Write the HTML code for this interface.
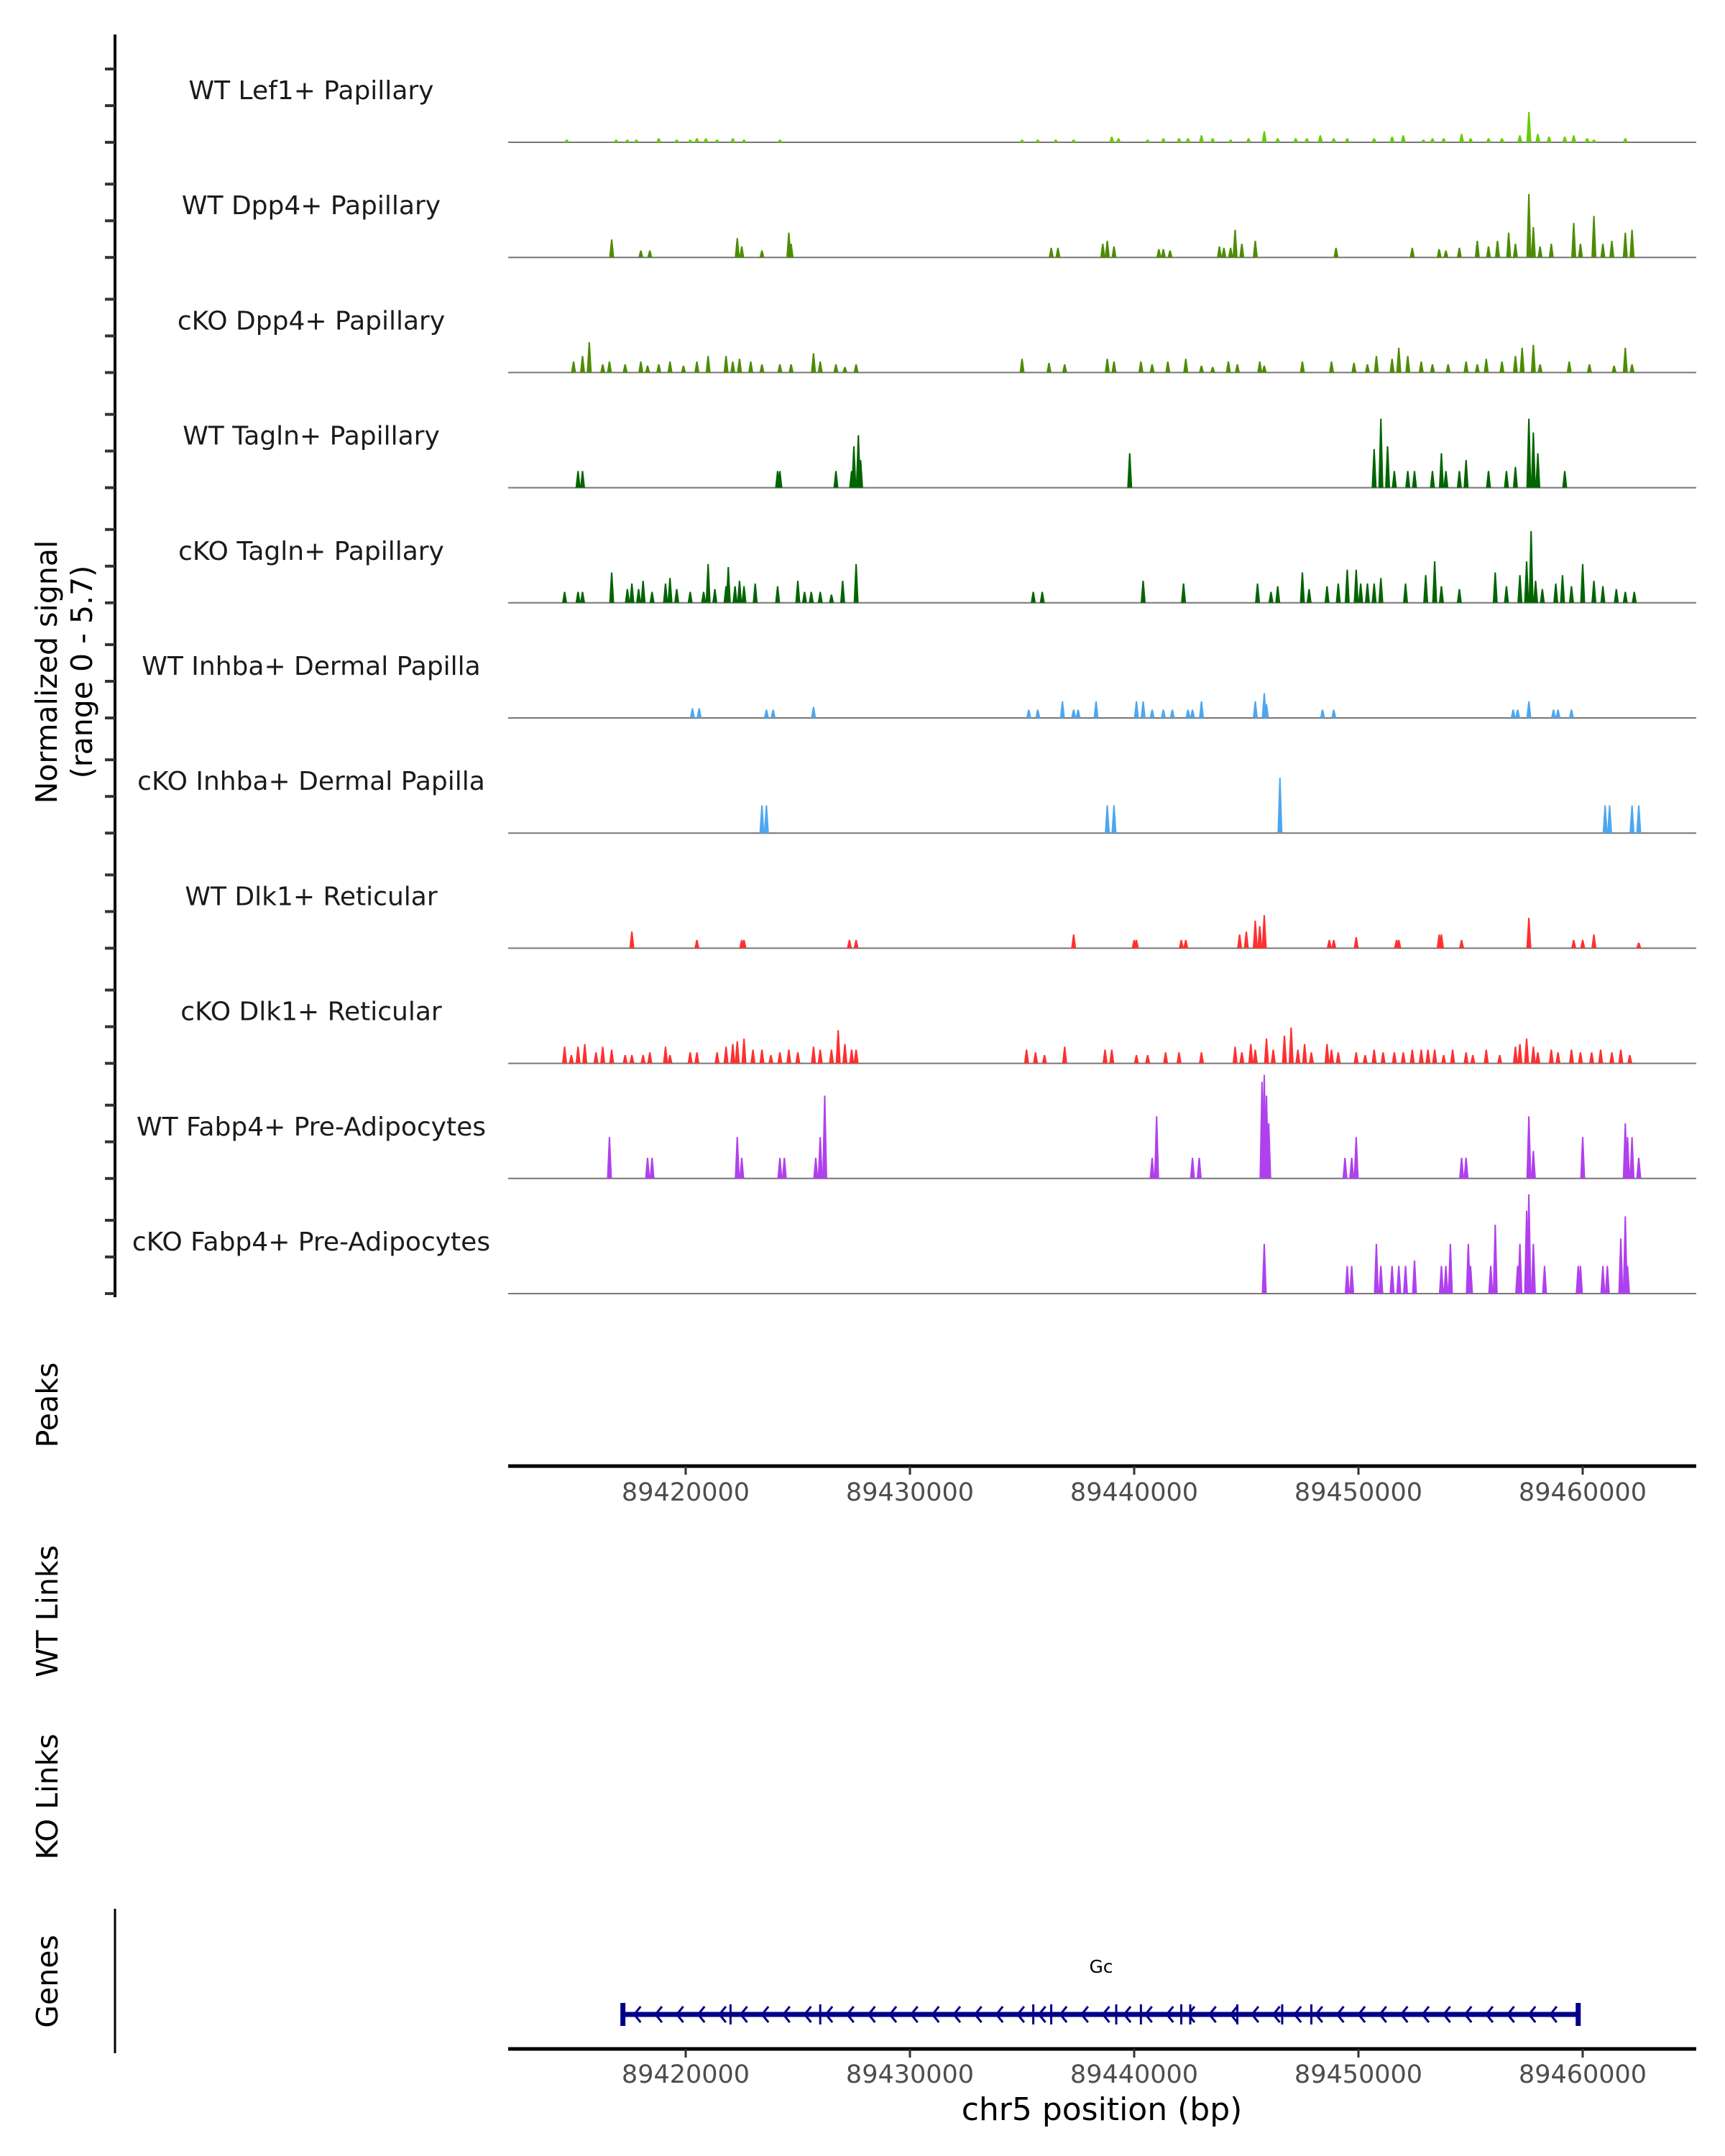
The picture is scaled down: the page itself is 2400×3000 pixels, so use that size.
<!DOCTYPE html>
<html><head><meta charset="utf-8"><title>Coverage plot chr5 Gc</title>
<style>
html,body{margin:0;padding:0;background:#fff;}
svg{display:block;font-family:"DejaVu Sans","Liberation Sans",sans-serif;}
</style></head>
<body>
<svg id="plot" xmlns="http://www.w3.org/2000/svg" width="2400" height="3000" viewBox="0 0 2400 3000">
<rect x="0" y="0" width="2400" height="3000" fill="#fff"/>
<g id="axes">
  <line x1="160" y1="48" x2="160" y2="1805" stroke="#000" stroke-width="4"/>
  <g id="yticks"></g>
  <text transform="translate(79,935) rotate(-90)" text-anchor="middle" font-size="41" fill="#000">Normalized signal</text>
  <text transform="translate(128,935) rotate(-90)" text-anchor="middle" font-size="41" fill="#000">(range 0 - 5.7)</text>
  <text transform="translate(80,1955) rotate(-90)" text-anchor="middle" font-size="41" fill="#000">Peaks</text>
  <text transform="translate(80,2242) rotate(-90)" text-anchor="middle" font-size="41" fill="#000">WT Links</text>
  <text transform="translate(80,2500) rotate(-90)" text-anchor="middle" font-size="41" fill="#000">KO Links</text>
  <text transform="translate(80,2757) rotate(-90)" text-anchor="middle" font-size="41" fill="#000">Genes</text>
  <line x1="160" y1="2656" x2="160" y2="2857" stroke="#000" stroke-width="3"/>
  <line x1="707" y1="2040" x2="2360" y2="2040" stroke="#000" stroke-width="5"/>
  <line x1="707" y1="2851" x2="2360" y2="2851" stroke="#000" stroke-width="5"/>
  <g id="xticks"></g>
  <text x="1533" y="2950" text-anchor="middle" font-size="44" fill="#000">chr5 position (bp)</text>
</g>
<g id="tracks"></g>
<g id="gene"></g>
</svg>
<script>
// ---------- data (positions in kb on chr5, signal 0-5.7) ----------
const xTicks = [89420, 89430, 89440, 89450, 89460];
const xTickLabels = ["89420000", "89430000", "89440000", "89450000", "89460000"];
const trackNames = ["WT Lef1+ Papillary","WT Dpp4+ Papillary","cKO Dpp4+ Papillary","WT Tagln+ Papillary","cKO Tagln+ Papillary","WT Inhba+ Dermal Papilla","cKO Inhba+ Dermal Papilla","WT Dlk1+ Reticular","cKO Dlk1+ Reticular","WT Fabp4+ Pre-Adipocytes","cKO Fabp4+ Pre-Adipocytes"];
const trackColors = ["#66CC00","#4C8C00","#4C8C00","#006400","#006400","#4DA6F0","#4DA6F0","#FF3030","#FF3030","#B040EE","#B040EE"];
const wtLef1 = [[89414.7,.14],[89416.9,.14],[89417.4,.14],[89417.8,.14],[89418.8,.21],[89419.6,.14],[89420.2,.14],[89420.5,.21],[89420.9,.21],[89421.4,.14],[89422.1,.21],[89422.6,.14],[89424.2,.14],[89435.0,.14],[89435.7,.14],[89436.5,.14],[89437.3,.14],[89439.0,.29],[89439.3,.21],[89440.6,.14],[89441.3,.21],[89442.0,.21],[89442.4,.21],[89443.0,.36],[89443.5,.21],[89444.3,.14],[89445.1,.21],[89445.8,.57],[89446.4,.21],[89447.2,.21],[89447.7,.21],[89448.3,.36],[89448.9,.21],[89449.5,.21],[89450.7,.21],[89451.5,.29],[89452.0,.36],[89452.9,.14],[89453.3,.21],[89453.8,.21],[89454.6,.43],[89455.0,.21],[89455.8,.21],[89456.4,.21],[89457.2,.36],[89457.6,1.57],[89458.0,.43],[89458.5,.29],[89459.2,.29],[89459.6,.36],[89460.2,.21],[89460.5,.14],[89461.9,.21]];
const wtDpp4 = [[89416.7,.93],[89418.0,.36],[89418.4,.36],[89422.3,1.0],[89422.5,.57],[89423.4,.36],[89424.6,1.28],[89424.7,.71],[89436.3,.5],[89436.6,.5],[89438.6,.71],[89438.8,.86],[89439.1,.57],[89441.1,.43],[89441.3,.43],[89441.6,.36],[89443.8,.57],[89444.0,.5],[89444.3,.5],[89444.5,1.43],[89444.8,.71],[89445.4,.86],[89449.0,.5],[89452.4,.5],[89453.6,.43],[89453.9,.36],[89454.5,.5],[89455.3,.86],[89455.8,.57],[89456.2,.86],[89456.7,1.28],[89457.0,.71],[89457.6,3.28],[89457.8,1.57],[89458.1,.57],[89458.6,.71],[89459.6,1.78],[89459.9,.71],[89460.5,2.14],[89460.9,.71],[89461.3,.86],[89461.9,1.28],[89462.2,1.43]];
const ckoDpp4 = [[89415.0,.57],[89415.4,.86],[89415.7,1.57],[89416.3,.43],[89416.6,.57],[89417.3,.43],[89418.0,.57],[89418.3,.36],[89418.8,.43],[89419.3,.57],[89419.9,.36],[89420.5,.57],[89421.0,.86],[89421.8,.86],[89422.1,.57],[89422.4,.71],[89422.9,.57],[89423.4,.43],[89424.2,.43],[89424.7,.43],[89425.7,1.0],[89426.0,.57],[89426.7,.43],[89427.1,.29],[89427.6,.43],[89435.0,.71],[89436.2,.5],[89436.9,.43],[89438.8,.71],[89439.1,.57],[89440.3,.57],[89440.8,.43],[89441.5,.57],[89442.3,.71],[89443.0,.36],[89443.5,.29],[89444.2,.57],[89444.6,.43],[89445.6,.57],[89445.8,.36],[89447.5,.57],[89448.8,.57],[89449.8,.5],[89450.4,.43],[89450.8,.86],[89451.5,.71],[89451.8,1.28],[89452.2,.86],[89452.8,.57],[89453.3,.43],[89454.0,.43],[89454.8,.57],[89455.3,.43],[89455.7,.71],[89456.4,.57],[89457.0,.86],[89457.3,1.28],[89457.8,1.43],[89458.1,.43],[89459.4,.57],[89460.3,.43],[89461.4,.36],[89461.9,1.28],[89462.2,.43]];
const wtTagln = [[89415.2,.86],[89415.4,.86],[89424.1,.86],[89424.2,.86],[89426.7,.86],[89427.4,.86],[89427.5,2.14],[89427.7,2.71],[89427.8,1.43],[89439.8,1.78],[89450.7,2.0],[89451.0,3.56],[89451.3,2.14],[89451.6,.86],[89452.2,.86],[89452.5,.86],[89453.3,.86],[89453.7,1.78],[89453.9,.86],[89454.5,.86],[89454.8,1.43],[89455.8,.86],[89456.6,.86],[89457.0,1.07],[89457.6,3.56],[89457.8,2.85],[89458.0,1.78],[89459.2,.86]];
const ckoTagln = [[89414.6,.57],[89415.2,.57],[89415.4,.57],[89416.7,1.57],[89417.4,.71],[89417.6,1.0],[89417.9,.71],[89418.1,1.14],[89418.5,.57],[89419.1,1.0],[89419.3,1.28],[89419.6,.71],[89420.2,.57],[89420.8,.57],[89421.0,2.0],[89421.3,.71],[89421.8,.86],[89421.9,1.85],[89422.2,.86],[89422.4,1.14],[89422.6,.86],[89423.1,1.0],[89424.1,.86],[89425.0,1.14],[89425.3,.57],[89425.6,.57],[89426.0,.57],[89426.5,.43],[89427.0,1.14],[89427.6,2.0],[89435.5,.57],[89435.9,.57],[89440.4,1.14],[89442.2,1.0],[89445.5,1.0],[89446.1,.57],[89446.4,.86],[89447.5,1.57],[89447.8,.71],[89448.6,.86],[89449.1,1.0],[89449.5,1.71],[89449.9,1.71],[89450.1,1.0],[89450.4,1.0],[89450.7,1.0],[89451.0,1.28],[89452.1,1.0],[89453.0,1.43],[89453.4,2.14],[89453.7,.86],[89454.5,.71],[89456.1,1.57],[89456.6,.86],[89457.2,1.43],[89457.5,2.14],[89457.7,3.71],[89457.9,1.14],[89458.2,.71],[89458.8,1.0],[89459.1,1.43],[89459.5,.86],[89460.0,2.0],[89460.5,1.14],[89460.9,.86],[89461.5,.71],[89461.9,.57],[89462.3,.57]];
const wtInhba = [[89420.3,.5],[89420.6,.5],[89423.6,.43],[89423.9,.43],[89425.7,.57],[89435.3,.43],[89435.7,.43],[89436.8,.86],[89437.3,.43],[89437.5,.43],[89438.3,.86],[89440.1,.86],[89440.4,.86],[89440.8,.43],[89441.3,.43],[89441.7,.43],[89442.4,.43],[89442.6,.43],[89443.0,.86],[89445.4,.86],[89445.8,1.28],[89445.9,.71],[89448.4,.43],[89448.9,.43],[89456.9,.43],[89457.1,.43],[89457.6,.86],[89458.7,.43],[89458.9,.43],[89459.5,.43]];
const ckoInhba = [[89423.4,1.43],[89423.6,1.43],[89438.8,1.43],[89439.1,1.43],[89446.5,2.85],[89461.0,1.43],[89461.2,1.43],[89462.2,1.43],[89462.5,1.43]];
const wtDlk1 = [[89417.6,.86],[89420.5,.43],[89422.5,.43],[89422.6,.43],[89427.3,.43],[89427.6,.43],[89437.3,.71],[89440.0,.43],[89440.1,.43],[89442.1,.43],[89442.3,.43],[89444.7,.71],[89445.0,.86],[89445.4,1.43],[89445.6,1.14],[89445.8,1.71],[89448.7,.43],[89448.9,.43],[89449.9,.57],[89451.7,.43],[89451.8,.43],[89453.6,.71],[89453.7,.71],[89454.6,.43],[89457.6,1.57],[89459.6,.43],[89460.0,.43],[89460.5,.71],[89462.5,.29]];
const ckoDlk1 = [[89414.6,.86],[89414.9,.43],[89415.2,.86],[89415.5,1.0],[89416.0,.57],[89416.3,.86],[89416.7,.71],[89417.3,.43],[89417.6,.43],[89418.1,.43],[89418.4,.57],[89419.1,.86],[89419.3,.43],[89420.2,.57],[89420.5,.57],[89421.4,.57],[89421.8,.86],[89422.1,1.0],[89422.3,1.14],[89422.6,1.28],[89423.0,.71],[89423.4,.71],[89423.8,.43],[89424.2,.57],[89424.6,.71],[89425.0,.57],[89425.7,.86],[89426.0,.71],[89426.5,.71],[89426.8,1.71],[89427.1,1.0],[89427.4,.71],[89427.6,.71],[89435.2,.71],[89435.6,.57],[89436.0,.43],[89436.9,.86],[89438.7,.71],[89439.0,.71],[89440.1,.43],[89440.6,.43],[89441.4,.57],[89442.0,.57],[89443.0,.57],[89444.5,.86],[89444.8,.57],[89445.2,1.0],[89445.4,.71],[89445.9,1.28],[89446.2,.71],[89446.7,1.43],[89447.0,1.85],[89447.3,.71],[89447.6,1.0],[89447.9,.57],[89448.6,1.0],[89448.8,.71],[89449.1,.57],[89449.9,.57],[89450.3,.43],[89450.7,.71],[89451.1,.57],[89451.6,.57],[89452.0,.57],[89452.4,.71],[89452.8,.71],[89453.1,.71],[89453.4,.71],[89453.8,.43],[89454.2,.71],[89454.8,.57],[89455.1,.43],[89455.7,.71],[89456.3,.43],[89457.0,.86],[89457.2,1.0],[89457.5,1.28],[89457.8,.86],[89458.0,.57],[89458.6,.71],[89458.9,.57],[89459.5,.71],[89459.9,.57],[89460.4,.57],[89460.8,.71],[89461.3,.57],[89461.7,.71],[89462.1,.43]];
const wtFabp4 = [[89416.6,2.14],[89418.3,1.07],[89418.5,1.07],[89422.3,2.14],[89422.5,1.07],[89424.2,1.07],[89424.4,1.07],[89425.8,1.07],[89426.0,2.14],[89426.2,4.28],[89440.8,1.07],[89441.0,3.21],[89442.6,1.07],[89442.9,1.07],[89445.7,4.99],[89445.8,5.35],[89445.9,4.28],[89446.0,2.85],[89449.4,1.07],[89449.7,1.07],[89449.9,2.14],[89454.6,1.07],[89454.8,1.07],[89457.6,3.21],[89457.8,1.43],[89460.0,2.14],[89461.9,2.85],[89462.0,2.14],[89462.2,2.14],[89462.5,1.07]];
const ckoFabp4 = [[89445.8,2.57],[89449.5,1.43],[89449.7,1.43],[89450.8,2.57],[89451.0,1.43],[89451.5,1.43],[89451.8,1.43],[89452.1,1.43],[89452.5,1.71],[89453.7,1.43],[89453.9,1.43],[89454.1,2.57],[89454.9,2.57],[89455.0,1.43],[89455.9,1.43],[89456.1,3.56],[89457.1,1.43],[89457.2,2.57],[89457.5,4.28],[89457.6,5.13],[89457.8,2.57],[89458.3,1.43],[89459.8,1.43],[89459.9,1.43],[89460.9,1.43],[89461.1,1.43],[89461.7,2.85],[89461.9,3.99],[89462.0,1.43]];
const geneStart = 89417.2;
const geneEnd = 89459.8;
const geneExons = [89417.2,89422.0,89426.0,89435.5,89436.3,89439.2,89440.3,89442.1,89442.5,89444.6,89446.6,89447.9,89459.8];
const geneName = "Gc";

// ---------- scales ----------
const NS = "http://www.w3.org/2000/svg";
const X0 = 954, PXKB = 31.2;           // 89420 kb at px 954
function xs(kb){ return X0 + (kb - 89420) * PXKB; }
const YMAX = 5.7, TRACK_H = 153.6;
const BASE0 = 198, TRACK_STEP = 160.2;
function base(i){ return BASE0 + i * TRACK_STEP; }
function ys(i, v){ return base(i) - v / YMAX * TRACK_H; }
const PLOT_L = 707, PLOT_R = 2360;
const allTracks = [wtLef1, wtDpp4, ckoDpp4, wtTagln, ckoTagln, wtInhba, ckoInhba, wtDlk1, ckoDlk1, wtFabp4, ckoFabp4];

function mk(tag, attrs, parent){
  const e = document.createElementNS(NS, tag);
  for (const k in attrs) e.setAttribute(k, attrs[k]);
  parent.appendChild(e);
  return e;
}

// y ticks on left axis
const yt = document.getElementById('yticks');
for (let i = 0; i < trackNames.length; i++) {
  for (let j = 0; j < 3; j++) {
    const y = base(i) - j * 51;
    const t = mk('line', {x1:146, x2:160, y1:y, y2:y, stroke:'#333', 'stroke-width':4}, yt);
    
    
  }
}

// x ticks (two axes)
const xt = document.getElementById('xticks');
[[2040, 2088], [2851, 2898]].forEach(function(a){
  xTicks.forEach(function(v, k){
    const x = xs(v);
    const tk = mk('line', {x1:x, x2:x, y1:a[0], y2:a[0]+12, stroke:'#333', 'stroke-width':3}, xt);
    
    
    const tl = mk('text', {x:x, y:a[1], 'text-anchor':'middle', 'font-size':35, fill:'#4d4d4d'}, xt);
    
    
    tl.textContent = xTickLabels[k];
  });
});

// tracks
const tg = document.getElementById('tracks');
allTracks.forEach(function(data, i){
  const g = mk('g', {}, tg);
  
  
  const lab = mk('text', {x:433, y:base(i)-60, 'text-anchor':'middle', 'font-size':36, fill:'#1a1a1a'}, g);
  
  
  lab.textContent = trackNames[i];
  const bl = mk('line', {x1:PLOT_L, x2:PLOT_R, y1:base(i), y2:base(i), stroke:'#777', 'stroke-width':2}, g);
  
  
  data.forEach(function(d){
    const x = xs(d[0]), y0 = base(i), y1 = ys(i, d[1]);
    const p = mk('polygon', {points:(x-3.5)+','+y0+' '+(x-1)+','+y1+' '+(x+1)+','+y1+' '+(x+3.5)+','+y0, fill:trackColors[i]}, g);
    
    
  });
});

// gene
const gg = document.getElementById('gene');
const GY = 2803;
const gl = mk('line', {x1:xs(geneStart), x2:xs(geneEnd), y1:GY, y2:GY, stroke:'#00008B', 'stroke-width':7}, gg);


geneExons.forEach(function(e, k){
  const end = (k === 0 || k === geneExons.length - 1);
  const ex = mk('line', {x1:xs(e), x2:xs(e), y1:GY-(end?16:14), y2:GY+(end?16:14), stroke:'#00008B', 'stroke-width':end?7:3}, gg);
  
  
});
for (let p = geneStart + 0.6; p < geneEnd - 0.3; p += 0.95) {
  const x = xs(p);
  const ch = mk('polyline', {points:(x+6)+','+(GY-11)+' '+(x-3)+','+GY+' '+(x+6)+','+(GY+11), fill:'none', stroke:'#00008B', 'stroke-width':3}, gg);
  
  
}
const gn = mk('text', {x:1532, y:2745, 'text-anchor':'middle', 'font-size':25, fill:'#000'}, gg);


gn.textContent = geneName;
</script>
</body></html>
